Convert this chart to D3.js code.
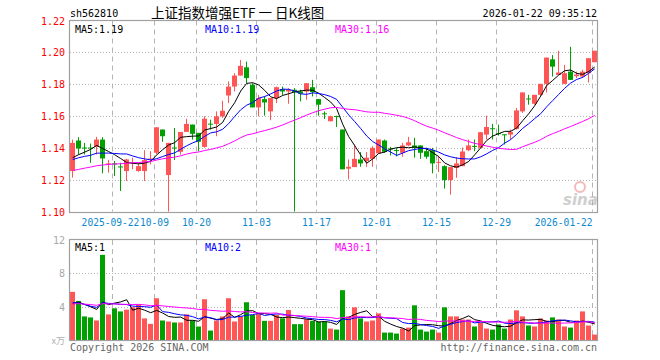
<!DOCTYPE html>
<html>
<head>
<meta charset="utf-8">
<script src="https://cdn.jsdelivr.net/npm/d3@7/dist/d3.min.js"></script>
<style>
  body { margin: 0; background: #fff; }
  svg text { font-family: "DejaVu Sans Mono", monospace; font-size: 10px; }
</style>
</head>
<body>
<div id="chart"></div>
<script>
// trading days shown (88 candles)
const dates = [
  "2025-09-11","2025-09-12","2025-09-15","2025-09-16","2025-09-17","2025-09-18","2025-09-19",
  "2025-09-22","2025-09-23","2025-09-24","2025-09-25","2025-09-26","2025-09-29","2025-09-30",
  "2025-10-09","2025-10-10","2025-10-13","2025-10-14","2025-10-15","2025-10-16","2025-10-17",
  "2025-10-20","2025-10-21","2025-10-22","2025-10-23","2025-10-24","2025-10-27","2025-10-28",
  "2025-10-29","2025-10-30","2025-10-31","2025-11-03","2025-11-04","2025-11-05","2025-11-06",
  "2025-11-07","2025-11-10","2025-11-11","2025-11-12","2025-11-13","2025-11-14","2025-11-17",
  "2025-11-18","2025-11-19","2025-11-20","2025-11-21","2025-11-24","2025-11-25","2025-11-26",
  "2025-11-27","2025-11-28","2025-12-01","2025-12-02","2025-12-03","2025-12-04","2025-12-05",
  "2025-12-08","2025-12-09","2025-12-10","2025-12-11","2025-12-12","2025-12-15","2025-12-16",
  "2025-12-17","2025-12-18","2025-12-19","2025-12-22","2025-12-23","2025-12-24","2025-12-25",
  "2025-12-26","2025-12-29","2025-12-30","2025-12-31","2026-01-05","2026-01-06","2026-01-07",
  "2026-01-08","2026-01-09","2026-01-12","2026-01-13","2026-01-14","2026-01-15","2026-01-16",
  "2026-01-19","2026-01-20","2026-01-21","2026-01-22"
];

const open = [
  1.1254,1.1446,1.1402,1.1402,1.1406,1.1452,1.1298,1.1302,1.1283,1.1254,
  1.1304,1.1254,1.1254,1.1329,1.1369,1.1515,1.1229,1.1402,1.1375,1.1500,
  1.1546,1.1494,1.1406,1.1552,1.1550,1.1598,1.1729,1.1785,1.1854,1.1906,
  1.1796,1.1654,1.1706,1.1629,1.1713,1.1769,1.1754,1.1765,1.1754,1.1754,
  1.1781,1.1706,1.1617,1.1567,1.1600,1.1515,1.1269,1.1279,1.1327,1.1317,
  1.1331,1.1365,1.1446,1.1396,1.1386,1.1369,1.1415,1.1415,1.1415,1.1379,
  1.1385,1.1308,1.1285,1.1198,1.1273,1.1285,1.1385,1.1412,1.1400,1.1483,
  1.1523,1.1492,1.1485,1.1483,1.1519,1.1629,1.1710,1.1677,1.1733,1.1802,
  1.1956,1.1858,1.1802,1.1879,1.1850,1.1848,1.1869,1.1938
];
const high = [
  1.1452,1.1467,1.1431,1.1427,1.1469,1.1467,1.1323,1.1317,1.1306,1.1331,
  1.1338,1.1306,1.1385,1.1379,1.1529,1.1515,1.1431,1.1525,1.1500,1.1583,
  1.1546,1.1494,1.1598,1.1577,1.1629,1.1696,1.1817,1.1869,1.1952,1.1942,
  1.1806,1.1733,1.1723,1.1713,1.1785,1.1785,1.1775,1.1775,1.1765,1.1806,
  1.1827,1.1706,1.1629,1.1602,1.1602,1.1515,1.1327,1.1421,1.1373,1.1373,
  1.1410,1.1452,1.1452,1.1406,1.1398,1.1431,1.1469,1.1463,1.1415,1.1400,
  1.1400,1.1348,1.1290,1.1279,1.1342,1.1402,1.1452,1.1452,1.1498,1.1602,
  1.1550,1.1546,1.1485,1.1515,1.1650,1.1748,1.1733,1.1733,1.1802,1.1967,
  1.1983,1.2010,1.1921,1.2035,1.1879,1.1890,1.1963,1.2010
];
const low = [
  1.1213,1.1358,1.1358,1.1306,1.1358,1.1240,1.1244,1.1223,1.1129,1.1192,
  1.1265,1.1250,1.1192,1.1296,1.1358,1.1438,1.0980,1.1323,1.1358,1.1500,
  1.1452,1.1379,1.1400,1.1515,1.1473,1.1588,1.1681,1.1754,1.1854,1.1806,
  1.1654,1.1598,1.1602,1.1573,1.1681,1.1733,1.1677,1.0950,1.1692,1.1702,
  1.1723,1.1602,1.1581,1.1567,1.1531,1.1265,1.1202,1.1279,1.1281,1.1281,
  1.1281,1.1365,1.1369,1.1352,1.1346,1.1344,1.1410,1.1338,1.1331,1.1331,
  1.1240,1.1248,1.1144,1.1106,1.1212,1.1285,1.1379,1.1379,1.1400,1.1452,
  1.1452,1.1477,1.1421,1.1452,1.1515,1.1619,1.1671,1.1671,1.1723,1.1748,
  1.1848,1.1858,1.1802,1.1827,1.1838,1.1840,1.1810,1.1938
];
const close = [
  1.1431,1.1396,1.1398,1.1398,1.1452,1.1333,1.1302,1.1298,1.1279,1.1327,
  1.1308,1.1285,1.1323,1.1333,1.1529,1.1473,1.1431,1.1398,1.1500,1.1550,
  1.1488,1.1438,1.1583,1.1548,1.1598,1.1633,1.1785,1.1854,1.1915,1.1838,
  1.1654,1.1713,1.1685,1.1713,1.1781,1.1754,1.1765,1.1748,1.1740,1.1806,
  1.1750,1.1671,1.1613,1.1598,1.1596,1.1265,1.1281,1.1331,1.1302,1.1338,
  1.1400,1.1452,1.1375,1.1394,1.1384,1.1415,1.1435,1.1400,1.1369,1.1344,
  1.1302,1.1312,1.1198,1.1279,1.1302,1.1377,1.1415,1.1408,1.1498,1.1531,
  1.1519,1.1488,1.1481,1.1500,1.1635,1.1748,1.1706,1.1733,1.1802,1.1967,
  1.1910,1.1873,1.1869,1.1827,1.1860,1.1879,1.1963,1.2010
];
// volume, 万手
const volume = [
  5.78,4.69,2.83,2.71,2.34,10.22,3.07,3.80,3.43,3.64,
  3.92,4.28,2.59,1.94,5.01,2.34,2.22,2.10,2.10,3.07,
  2.34,1.62,4.89,1.13,2.34,2.83,5.01,2.22,2.83,4.53,
  3.00,3.20,2.30,2.30,3.00,2.60,3.60,1.90,1.90,2.50,
  2.30,2.20,2.20,1.37,1.25,5.98,2.83,3.92,2.59,2.22,
  2.34,3.19,0.89,0.89,0.77,1.37,1.49,4.16,1.25,1.01,
  1.25,0.89,3.92,2.83,2.83,2.46,2.46,1.62,2.10,1.37,
  1.25,1.86,1.37,2.46,3.56,2.83,1.74,1.62,2.59,2.34,
  2.71,2.46,1.62,1.49,2.34,3.43,1.74,0.65
];
// closes / volumes before the first visible day, only used to warm up the moving averages
const priorClose = [
  1.118,1.116,1.119,1.121,1.120,1.118,1.122,1.124,1.121,1.123,
  1.125,1.122,1.124,1.126,1.123,1.125,1.127,1.124,1.123,1.125,
  1.128,1.131,1.133,1.132,1.133,1.130,1.132,1.131,1.133
];
const priorVolume = [
  3.8,4.6,4.1,5.2,3.9,4.4,3.6,4.8,4.0,4.5,
  3.7,4.3,4.9,3.8,4.2,4.6,3.9,4.1,4.4,4.2,
  5.1,4.6,4.9,3.7,4.6,3.9,4.3,4.1,3.9
];

const priceTicks = [1.10, 1.12, 1.14, 1.16, 1.18, 1.20, 1.22];
const volTicks = [4, 8, 12];
const tickDates = ["2025-09-22","2025-10-09","2025-10-20","2025-11-03","2025-11-17","2025-12-01","2025-12-15","2025-12-29","2026-01-22"];
const volLegend = ["MA5:1", "MA10:2", "MA30:1"];
const maPeriods = [5, 10, 30];
const maColors = ["#000000", "#0000ff", "#ff00ff"];

function movingAverage(values, prior, n) {
  const all = prior.concat(values);
  const off = prior.length;
  return values.map((v, i) => d3.mean(all.slice(off + i - n + 1, off + i + 1)));
}

function drawChart() {
  const dimensions = {
    width: 660,
    height: 360,
    left: 70,
    right: 597,
    priceTop: 20.5,
    priceBottom: 211.5,
    volTop: 240,
    volBottom: 340,
  };

  const red = "#ff5555";
  const green = "#00a000";
  const gridColor = "#b4b4b4";

  const svg = d3.select("#chart")
    .append("svg")
      .attr("width", dimensions.width)
      .attr("height", dimensions.height);

  // scales
  const xScale = d3.scaleBand()
    .domain(d3.range(dates.length))
    .range([69.7, 597.7]);
  const cx = i => xScale(i) + xScale.bandwidth() / 2;

  const yScale = d3.scaleLinear()
    .domain([1.10, 1.22])
    .range([dimensions.priceBottom, dimensions.priceTop]);

  const vScale = d3.scaleLinear()
    .domain([0, 12])
    .range([dimensions.volBottom, dimensions.volTop]);

  const defs = svg.append("defs");
  defs.append("clipPath").attr("id", "clip-price")
    .append("rect")
      .attr("x", dimensions.left).attr("y", dimensions.priceTop)
      .attr("width", dimensions.right - dimensions.left)
      .attr("height", dimensions.priceBottom - dimensions.priceTop);
  defs.append("clipPath").attr("id", "clip-vol")
    .append("rect")
      .attr("x", dimensions.left).attr("y", dimensions.volTop)
      .attr("width", dimensions.right - dimensions.left)
      .attr("height", dimensions.volBottom - dimensions.volTop);

  const tickIdx = tickDates.map(d => dates.indexOf(d));
  const gridX = i => Math.round(xScale(i)) + 0.5;

  // grids
  [[dimensions.priceTop, dimensions.priceBottom], [dimensions.volTop, dimensions.volBottom]].forEach(([t, b]) => {
    svg.append("g").selectAll("line")
      .data(tickIdx)
      .join("line")
        .attr("x1", gridX).attr("x2", gridX)
        .attr("y1", t).attr("y2", b)
        .attr("stroke", gridColor)
        .attr("stroke-dasharray", "5,4");
  });

  svg.append("g").selectAll("line")
    .data(priceTicks.slice(1, -1))
    .join("line")
      .attr("x1", dimensions.left).attr("x2", dimensions.right)
      .attr("y1", d => Math.round(yScale(d)) + 0.5)
      .attr("y2", d => Math.round(yScale(d)) + 0.5)
      .attr("stroke", gridColor)
      .attr("stroke-dasharray", "1,2");

  svg.append("g").selectAll("line")
    .data(volTicks.slice(0, -1))
    .join("line")
      .attr("x1", dimensions.left).attr("x2", dimensions.right)
      .attr("y1", d => Math.round(vScale(d)) + 0.5)
      .attr("y2", d => Math.round(vScale(d)) + 0.5)
      .attr("stroke", gridColor)
      .attr("stroke-dasharray", "1,2");

  // watermark
  const wm = svg.append("g").attr("opacity", 0.55);
  wm.append("circle").attr("cx", 580).attr("cy", 187).attr("r", 5)
    .attr("fill", "none").attr("stroke", "#f08080").attr("stroke-width", 2);
  wm.append("text").attr("x", 563).attr("y", 205)
    .style("font-family", "DejaVu Sans").style("font-size", "15px")
    .style("font-style", "italic").style("font-weight", "bold")
    .attr("fill", "#a8a8a8").text("sina");

  // candles
  const candles = svg.append("g").attr("clip-path", "url(#clip-price)")
    .selectAll("g")
    .data(dates.map((d, i) => i))
    .join("g");
  const col = i => close[i] >= open[i] ? red : green;

  candles.append("line")
    .attr("x1", i => Math.floor(cx(i)) + 0.5)
    .attr("x2", i => Math.floor(cx(i)) + 0.5)
    .attr("y1", i => yScale(high[i]))
    .attr("y2", i => yScale(low[i]))
    .attr("stroke", col);
  candles.append("rect")
    .attr("x", i => Math.floor(cx(i)) - 2)
    .attr("width", 5)
    .attr("y", i => yScale(Math.max(open[i], close[i])))
    .attr("height", i => Math.max(1, Math.abs(yScale(open[i]) - yScale(close[i]))))
    .attr("fill", col);

  // volume bars
  svg.append("g").attr("clip-path", "url(#clip-vol)")
    .selectAll("rect")
    .data(volume)
    .join("rect")
      .attr("x", (d, i) => Math.floor(cx(i)) - 2)
      .attr("width", 5)
      .attr("y", d => vScale(d))
      .attr("height", d => vScale(0) - vScale(d))
      .attr("fill", (d, i) => col(i));

  // moving averages
  const priceMA = maPeriods.map(n => movingAverage(close, priorClose, n));
  const volMA = maPeriods.map(n => movingAverage(volume, priorVolume, n));

  const priceLine = d3.line().x((d, i) => cx(i)).y(d => yScale(d));
  const volLine = d3.line().x((d, i) => cx(i)).y(d => vScale(d));

  svg.append("g").attr("clip-path", "url(#clip-price)")
    .selectAll("path")
    .data(priceMA)
    .join("path")
      .attr("d", priceLine)
      .attr("fill", "none")
      .attr("stroke", (d, i) => maColors[i])
      .attr("stroke-width", 1);

  svg.append("g").attr("clip-path", "url(#clip-vol)")
    .selectAll("path")
    .data(volMA)
    .join("path")
      .attr("d", volLine)
      .attr("fill", "none")
      .attr("stroke", (d, i) => maColors[i])
      .attr("stroke-width", 1);

  // frames
  [[dimensions.priceTop, dimensions.priceBottom], [dimensions.volTop, dimensions.volBottom]].forEach(([t, b]) => {
    svg.append("rect")
      .attr("x", dimensions.left - 0.5).attr("y", Math.round(t) - 0.5)
      .attr("width", dimensions.right - dimensions.left + 1)
      .attr("height", Math.round(b) - Math.round(t) + 1)
      .attr("fill", "none")
      .attr("stroke", "#a0a0a0")
      .attr("stroke-width", 1.2);
  });

  // price axis labels
  svg.append("g").selectAll("text")
    .data(priceTicks)
    .join("text")
      .attr("x", 65)
      .attr("y", d => yScale(d) + 4)
      .attr("text-anchor", "end")
      .attr("fill", "#ff0000")
      .text(d3.format(".2f"));

  // volume axis labels
  svg.append("g").selectAll("text")
    .data(volTicks)
    .join("text")
      .attr("x", 65)
      .attr("y", d => vScale(d) + 4)
      .attr("text-anchor", "end")
      .attr("fill", "#a8a8a8")
      .text(d => d);
  svg.append("text")
    .attr("x", 65).attr("y", dimensions.volBottom + 4)
    .attr("text-anchor", "end")
    .attr("fill", "#b0b0b0")
    .style("font-family", "'Noto Sans CJK SC'")
    .style("font-size", "9px")
    .text("x万");

  // date labels: first one sits just left of its gridline so it meets "10-09" without overlapping
  const last = tickDates.length - 1;
  svg.append("g").selectAll("text")
    .data(tickDates)
    .join("text")
      .attr("x", (d, k) => gridX(tickIdx[k]) - (k === 0 ? 2 : 0))
      .attr("y", 226)
      .attr("text-anchor", (d, k) => k === last ? "end" : "middle")
      .attr("fill", "#0a88d0")
      .style("font-size", "9.6px")
      .text((d, k) => (k === 0 || k === last) ? d : d.slice(5));

  // legends
  const lastOf = a => a[a.length - 1];
  const legendX = [75, 205, 335];
  svg.append("g").selectAll("text")
    .data(maPeriods)
    .join("text")
      .attr("x", (d, i) => legendX[i])
      .attr("y", 33)
      .attr("fill", (d, i) => maColors[i])
      .text((d, i) => `MA${d}:${d3.format(".2f")(lastOf(priceMA[i]))}`);
  svg.append("g").selectAll("text")
    .data(volLegend)
    .join("text")
      .attr("x", (d, i) => legendX[i])
      .attr("y", 251)
      .attr("fill", (d, i) => maColors[i])
      .text(d => d);

  // header
  svg.append("text").attr("x", 70).attr("y", 16.5).attr("fill", "#000").text("sh562810");
  svg.append("text").attr("x", 151).attr("y", 17.5).attr("fill", "#000")
    .style("font-family", "'Noto Sans CJK SC'").style("font-size", "13.5px")
    .text("上证指数增强ETF 一 日K线图");
  svg.append("text").attr("x", 597).attr("y", 16.5).attr("text-anchor", "end")
    .attr("fill", "#000").text("2026-01-22 09:35:12");

  // footer
  svg.append("text").attr("x", 70).attr("y", 351).attr("fill", "#666").text("Copyright 2026 SINA.COM");
  svg.append("text").attr("x", 597).attr("y", 351).attr("text-anchor", "end")
    .attr("fill", "#666").text("http://finance.sina.com.cn");
}

drawChart();
</script>
</body>
</html>
